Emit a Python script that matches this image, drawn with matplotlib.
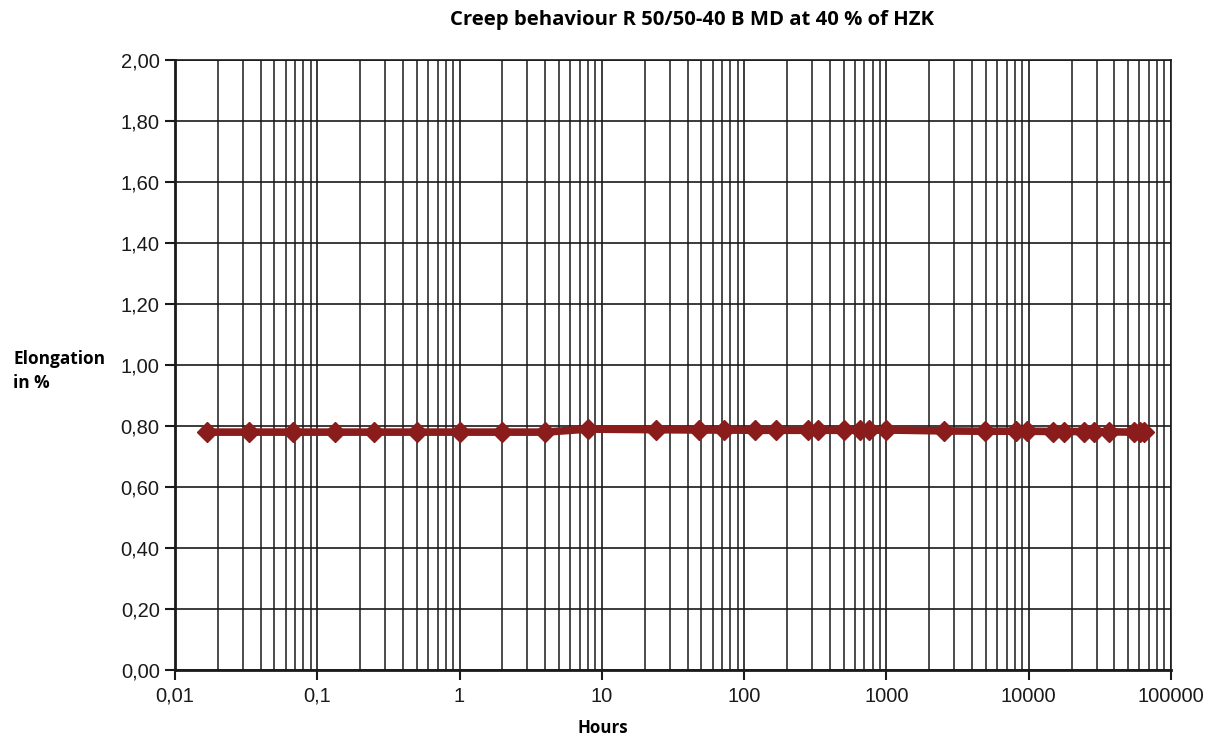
import numpy as np
import matplotlib.pyplot as plt
from matplotlib.ticker import FixedLocator, LogLocator, FuncFormatter, NullFormatter

# Datos (horas, alargamiento en %)
hours = [0.0167, 0.033, 0.067, 0.133, 0.25, 0.5, 1, 2, 4, 8,
         24, 48, 72, 120, 168, 280, 330, 500, 650, 750, 1000,
         2550, 4900, 8100, 9800, 14900, 17700, 24400, 28700, 36500,
         54500, 60500, 65000]
elongation = [0.78, 0.78, 0.78, 0.78, 0.78, 0.78, 0.78, 0.78, 0.78, 0.79,
              0.788, 0.787, 0.787, 0.786, 0.786, 0.786, 0.786, 0.786, 0.786, 0.786, 0.787,
              0.784, 0.783, 0.783, 0.783, 0.782, 0.782, 0.782, 0.782, 0.781,
              0.78, 0.78, 0.78]

x_ticks = [0.01, 0.1, 1, 10, 100, 1000, 10000, 100000]
x_labels = ['0,01', '0,1', '1', '10', '100', '1000', '10000', '100000']
y_ticks = [0.0, 0.2, 0.4, 0.6, 0.8, 1.0, 1.2, 1.4, 1.6, 1.8, 2.0]

plt.rcParams['font.family'] = ['Liberation Sans', 'DejaVu Sans']

fig = plt.figure(figsize=(12.16, 7.38), dpi=100)
ax = fig.add_axes([0.1439, 0.0921, 0.963 - 0.1439, 0.9187 - 0.0921])

ax.plot(hours, elongation, color='#8b1c1c', linewidth=5.5, marker='D',
        markersize=10, markerfacecolor='#8b1c1c', markeredgecolor='#8b1c1c', zorder=3)

ax.set_xscale('log')
ax.set_xlim(0.01, 100000)
ax.set_ylim(0, 2.0)

ax.xaxis.set_major_locator(FixedLocator(x_ticks))
ax.xaxis.set_major_formatter(FuncFormatter(lambda v, p: x_labels[x_ticks.index(v)] if v in x_ticks else ''))
ax.xaxis.set_minor_locator(LogLocator(base=10, subs=np.arange(2, 10), numticks=20))
ax.xaxis.set_minor_formatter(NullFormatter())
ax.set_yticks(y_ticks)
ax.yaxis.set_major_formatter(FuncFormatter(lambda v, p: f'{v:.2f}'.replace('.', ',')))

ax.grid(True, which='major', axis='both', color='#1a1a1a', linewidth=1.2)
ax.grid(True, which='minor', axis='x', color='#1a1a1a', linewidth=1.1)
ax.set_axisbelow(True)

ax.tick_params(axis='both', which='major', direction='out', length=7, width=1.5,
               labelsize=14.5, colors='#1a1a1a', pad=4)
ax.tick_params(axis='x', which='major', pad=5)
ax.tick_params(axis='x', which='minor', length=0)
for s in ax.spines.values():
    s.set_color('#1a1a1a')
    s.set_linewidth(1.2)
ax.spines['left'].set_linewidth(2)
ax.spines['bottom'].set_linewidth(2)

fig.text(0.569, 0.973, 'Creep behaviour R 50/50-40 B MD at 40 % of HZK',
         ha='center', va='center', fontsize=14.6, fontweight='bold', family=['Open Sans', 'DejaVu Sans'])
fig.text(0.011, 0.497, 'Elongation\nin %', ha='left', va='center', fontsize=12.4,
         fontweight='bold', family=['Open Sans', 'DejaVu Sans'], linespacing=1.45)
fig.text(0.496, 0.014, 'Hours', ha='center', va='center', fontsize=12.2,
         fontweight='bold', family=['Open Sans', 'DejaVu Sans'])

fig.savefig('out.png', dpi=100)
